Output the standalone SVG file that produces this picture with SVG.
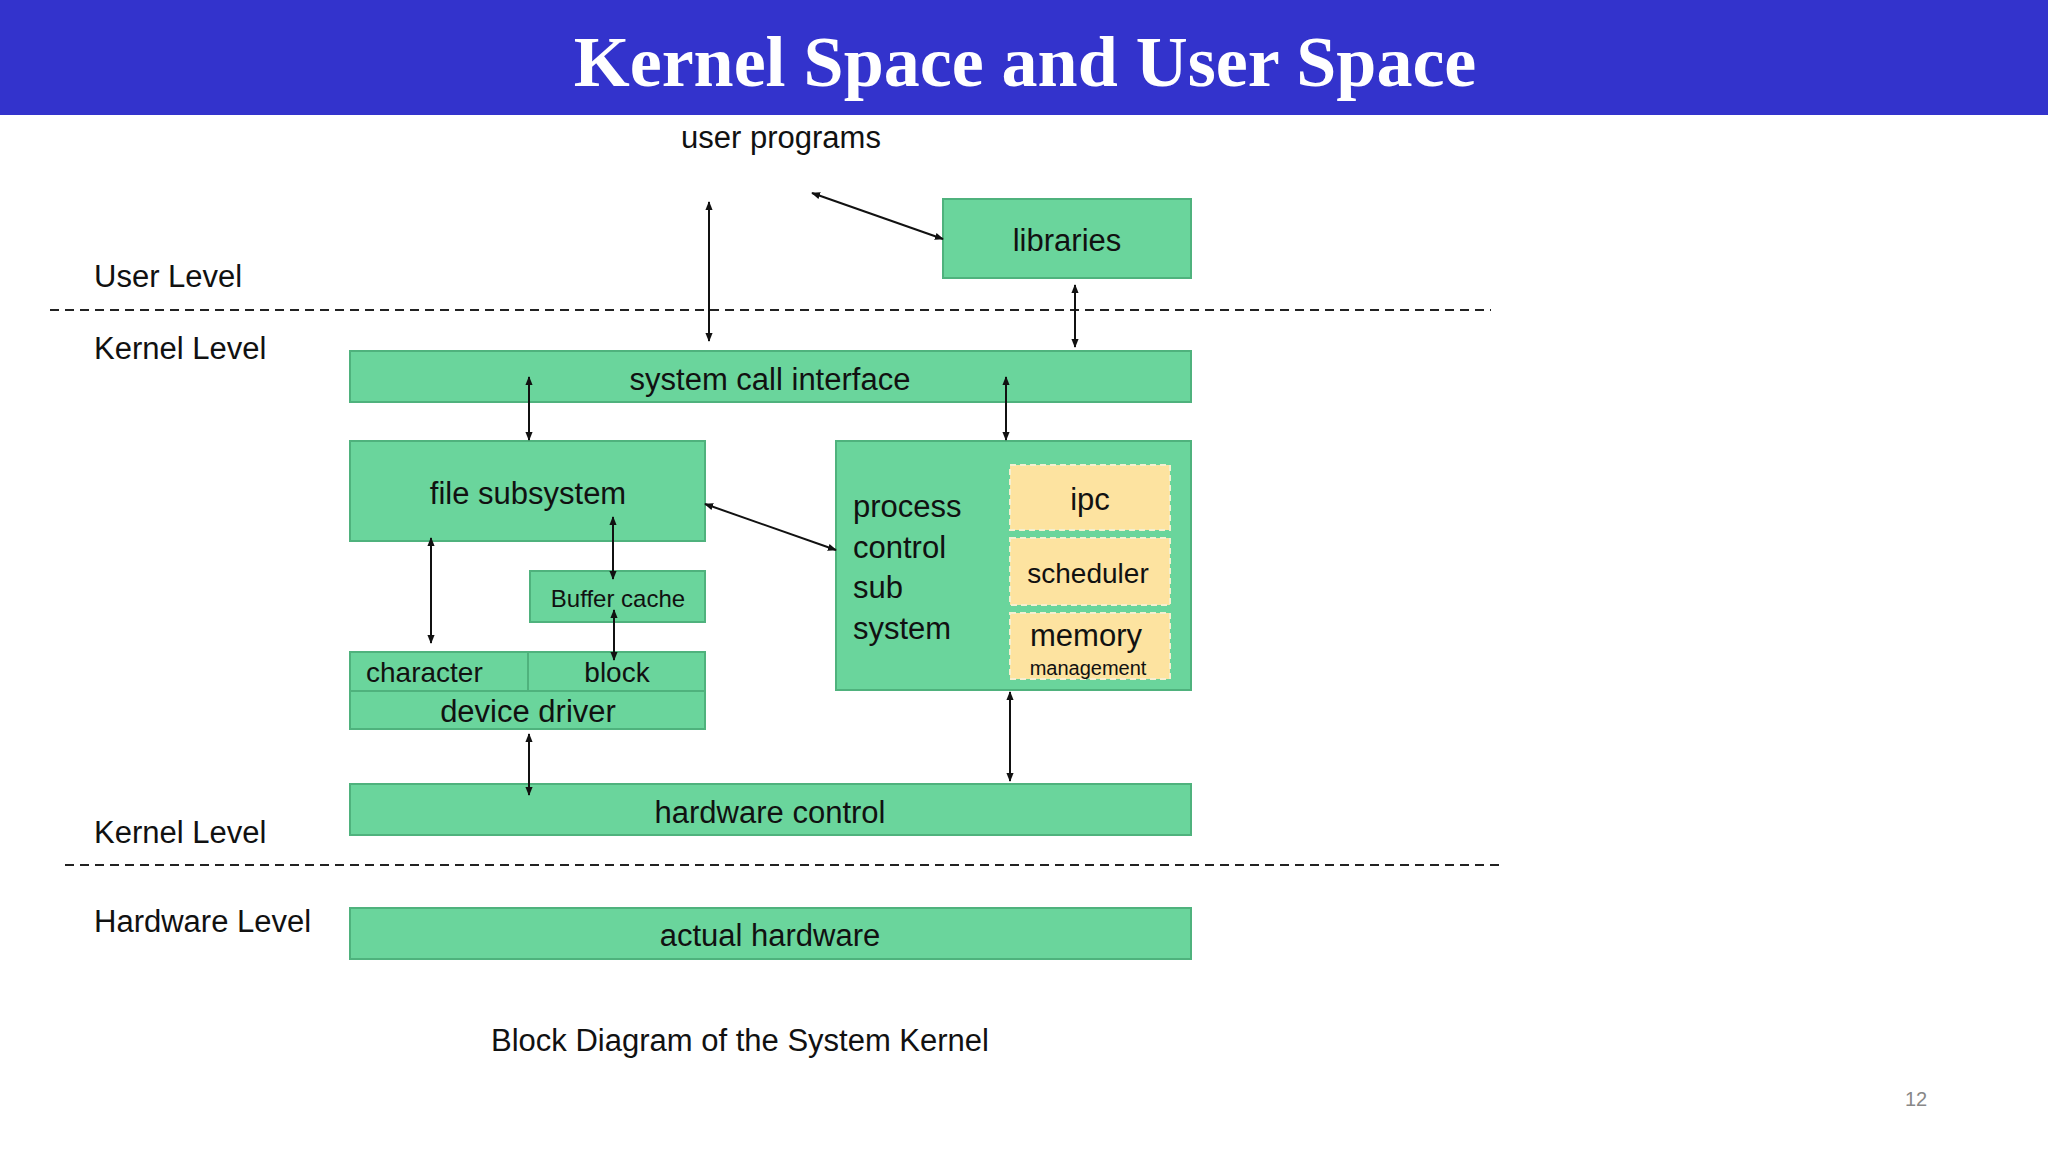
<svg xmlns="http://www.w3.org/2000/svg" width="2048" height="1152" viewBox="0 0 2048 1152">
<style>
.g{fill:#6ad59c;stroke:#4fb27d;stroke-width:2}
.y{fill:#fde3a0;stroke:#f5efd0;stroke-width:2;stroke-dasharray:6 4}
.t{font-family:"Liberation Sans",Arial,sans-serif;font-size:31px;fill:#111}
.c{text-anchor:middle}
.a{stroke:#111;stroke-width:2;fill:none;marker-start:url(#h);marker-end:url(#h)}
.d{stroke:#222;stroke-width:2;stroke-dasharray:9 6}
</style>
<defs><marker id="h" viewBox="0 0 10 10" refX="9" refY="5" markerWidth="9" markerHeight="9" orient="auto-start-reverse" markerUnits="userSpaceOnUse"><path d="M0,1 L10,5 L0,9 z" fill="#111"/></marker></defs>
<rect width="2048" height="1152" fill="#fff"/>
<rect width="2048" height="115" fill="#3333cc"/>
<text x="1025" y="86" text-anchor="middle" font-family="Liberation Serif,serif" font-weight="bold" font-size="72" fill="#fff">Kernel Space and User Space</text>
<text class="t c" x="781" y="148">user programs</text>
<text class="t" x="94" y="287">User Level</text>
<text class="t" x="94" y="359">Kernel Level</text>
<text class="t" x="94" y="843">Kernel Level</text>
<text class="t" x="94" y="932">Hardware Level</text>
<line class="d" x1="50" y1="310" x2="1491" y2="310"/>
<line class="d" x1="65" y1="865" x2="1505" y2="865"/>
<g id="libraries"><rect class="g" x="943" y="199" width="248" height="79"/><text class="t c" x="1067" y="251">libraries</text></g>
<g id="syscall"><rect class="g" x="350" y="351" width="841" height="51"/><text class="t c" x="770" y="390">system call interface</text></g>
<g id="filesub"><rect class="g" x="350" y="441" width="355" height="100"/><text class="t c" x="528" y="504">file subsystem</text></g>
<g id="buffer"><rect class="g" x="530" y="571" width="175" height="51"/><text class="t c" x="618" y="607" style="font-size:24px">Buffer cache</text></g>
<g id="driver"><rect class="g" x="350" y="652" width="355" height="39"/><line x1="528" y1="652" x2="528" y2="691" stroke="#4fb27d" stroke-width="2"/><text class="t" x="366" y="682" style="font-size:28px">character</text><text class="t c" x="617" y="682" style="font-size:28px">block</text><rect class="g" x="350" y="691" width="355" height="38"/><text class="t c" x="528" y="722">device driver</text></g>
<g id="process"><rect class="g" x="836" y="441" width="355" height="249"/><text class="t" x="853" y="517">process</text><text class="t" x="853" y="558">control</text><text class="t" x="853" y="598">sub</text><text class="t" x="853" y="639">system</text></g>
<g id="ipc"><rect class="y" x="1010" y="465" width="160" height="65"/><text class="t c" x="1090" y="510">ipc</text></g>
<g id="scheduler"><rect class="y" x="1010" y="538" width="160" height="67"/><text class="t c" x="1088" y="583" style="font-size:28px">scheduler</text></g>
<g id="memory"><rect class="y" x="1010" y="613" width="160" height="66"/><text class="t c" x="1086" y="646">memory</text><text class="t c" x="1088" y="675" style="font-size:20px">management</text></g>
<g id="hwcontrol"><rect class="g" x="350" y="784" width="841" height="51"/><text class="t c" x="770" y="823">hardware control</text></g>
<g id="hardware"><rect class="g" x="350" y="908" width="841" height="51"/><text class="t c" x="770" y="946">actual hardware</text></g>
<g id="connectors">
<line class="a" x1="709" y1="202" x2="709" y2="341"/>
<line class="a" x1="812" y1="193" x2="943" y2="239"/>
<line class="a" x1="1075" y1="285" x2="1075" y2="347"/>
<line class="a" x1="529" y1="377" x2="529" y2="440"/>
<line class="a" x1="1006" y1="377" x2="1006" y2="440"/>
<line class="a" x1="705" y1="504" x2="836" y2="550"/>
<line class="a" x1="613" y1="517" x2="613" y2="579"/>
<line class="a" x1="431" y1="538" x2="431" y2="643"/>
<line class="a" x1="614" y1="610" x2="614" y2="660"/>
<line class="a" x1="529" y1="734" x2="529" y2="795"/>
<line class="a" x1="1010" y1="692" x2="1010" y2="781"/>
</g>
<text class="t c" x="740" y="1051">Block Diagram of the System Kernel</text>
<text x="1916" y="1106" text-anchor="middle" font-family="Liberation Sans,sans-serif" font-size="20" fill="#888">12</text>
</svg>
